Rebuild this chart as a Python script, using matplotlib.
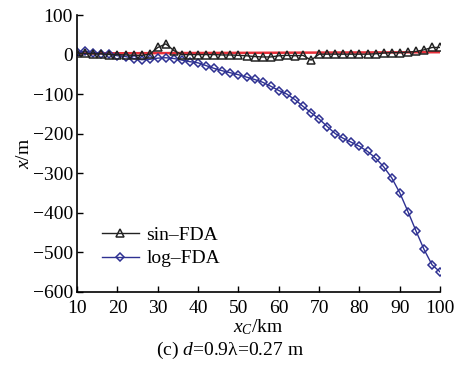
import matplotlib.pyplot as plt

plt.rcParams['font.family'] = ['Liberation Serif', 'DejaVu Serif']
plt.rcParams['mathtext.fontset'] = 'custom'
plt.rcParams['mathtext.rm'] = 'Liberation Serif'
plt.rcParams['mathtext.it'] = 'Liberation Serif:italic'

xc = [10, 12, 14, 16, 18, 20, 22, 24, 26, 28, 30, 32, 34, 36, 38, 40, 42, 44, 46, 48,
      50, 52, 54, 56, 58, 60, 62, 64, 66, 68, 70, 72, 74, 76, 78, 80, 82, 84, 86, 88,
      90, 92, 94, 96, 98, 100]

sin_fda = [3, 3, 2, 2, 0, 0, -1, -2, -2, 1, 18, 27, 10, 0, 0, 0, 0, 0, -1, -1,
           -2, -3, -5, -6, -6, -3, -2, -3, -2, -14, 1, 1, 1, 1, 1, 1, 1, 2, 4, 5,
           5, 6, 8, 12, 18, 18]

log_fda = [6, 8, 5, 2, 1, -3, -5, -10, -13, -12, -9, -8, -10, -14, -18, -21, -28, -35, -41, -46,
           -51, -57, -63, -70, -80, -91, -100, -114, -131, -147, -163, -182, -200, -212, -222, -232, -245, -262, -284, -312,
           -350, -397, -446, -493, -532, -550]

true_x = [10, 100]
true_y = [3, 6]

fig = plt.figure(figsize=(4.59, 3.67), dpi=100)
ax = fig.add_axes([0.168, 0.205, 0.791, 0.754])

ax.plot(true_x, true_y, color='#e8303a', lw=1.8, zorder=1)
ax.plot(xc, sin_fda, color='#222222', lw=1.0, marker='^', ms=5.5, mfc='none',
        mec='#222222', mew=1.1, label='sin\u2013FDA', zorder=3)
ax.plot(xc, log_fda, color='#2e3192', lw=1.0, marker='D', ms=4.3, mfc='none',
        mec='#2e3192', mew=1.1, label='log\u2013FDA', zorder=2)

ax.set_xlim(10, 100)
ax.set_ylim(-600, 100)
ax.set_xticks(range(10, 101, 10))
ax.set_yticks(range(-600, 101, 100))
for s in ['top', 'right']:
    ax.spines[s].set_visible(False)
for s in ['left', 'bottom']:
    ax.spines[s].set_linewidth(1.2)
ax.tick_params(direction='in', length=4, width=1.0, labelsize=14, pad=3)
ax.tick_params(axis='x', pad=6)

ax.set_ylabel('$x$/m', fontsize=14, labelpad=0)
ax.set_xlabel('$x_C$/km', fontsize=14, labelpad=0)
fig.text(0.5, 0.032, '(c) $d$=0.9\u03bb=0.27 m', ha='center', fontsize=14)

ax.legend(loc='lower left', bbox_to_anchor=(0.02, 0.025), frameon=False,
          fontsize=14, handlelength=1.9, handletextpad=0.4, labelspacing=0.3)

fig.savefig('out.png', dpi=100)
